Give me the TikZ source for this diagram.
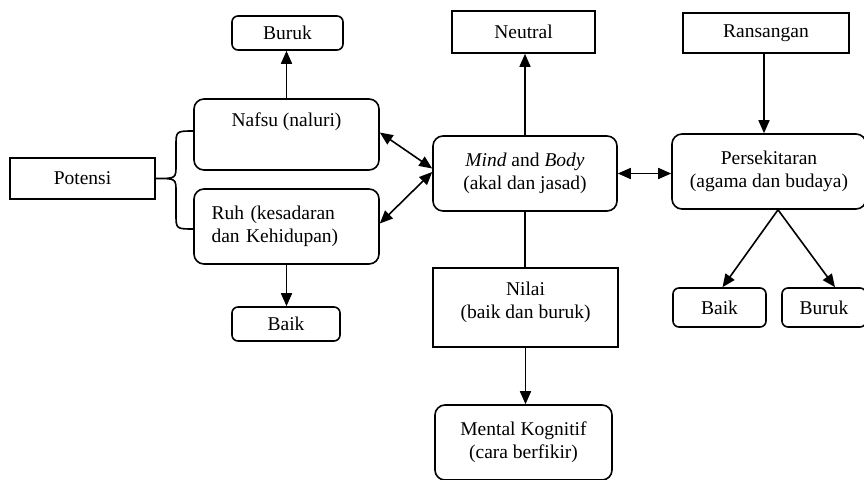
\documentclass[tikz,border=0pt]{standalone}
\usepackage{fontspec}
\setmainfont{Liberation Serif}
\usetikzlibrary{arrows.meta,calc}

\begin{document}
\begin{tikzpicture}[x=1pt,y=-1pt,
    font=\fontsize{19.5}{23}\selectfont, line width=1.6pt,
    box/.style={draw, inner sep=2pt, align=center},
    rbox/.style={box, rounded corners=10pt},
    sbox/.style={box, rounded corners=6pt},
    arr/.style={-{Triangle[length=13pt,width=11pt]}},
    darr/.style={{Triangle[length=13pt,width=11pt]}-{Triangle[length=13pt,width=11pt]}}]

    \useasboundingbox (0,0) rectangle (864,479);

    % left part
    \node[box, minimum width=145pt, minimum height=41pt] (potensi) at (82.5,178.5) {Potensi};
    \node[rbox, minimum width=185pt, minimum height=71pt] (nafsu) at (286.5,134.5) {Nafsu (naluri)\\\strut};
    \node[rbox, minimum width=185pt, minimum height=75pt, text width=150pt, align=left] (ruh) at (286.5,226.5) {Ruh (kesadaran\\dan Kehidupan)};
    \node[sbox, minimum width=111pt, minimum height=34pt] (buruka) at (287.5,33) {Buruk};
    \node[sbox, minimum width=108pt, minimum height=34pt] (baika) at (286,324) {Baik};

    % middle part
    \node[rbox, minimum width=184pt, minimum height=75pt] (mind) at (525,173.5) {\textit{Mind} and \textit{Body}\\(akal dan jasad)};
    \node[box, minimum width=143pt, minimum height=42pt] (neutral) at (523.5,32) {Neutral};
    \node[box, minimum width=185pt, minimum height=79pt] (nilai) at (525.5,307.5) {Nilai\\(baik dan buruk)\\[-15pt]\strut};
    \node[rbox, minimum width=177pt, minimum height=75pt] (mental) at (523.5,442.5) {Mental Kognitif\\(cara berfikir)};

    % right part
    \node[box, minimum width=166pt, minimum height=40pt] (ransangan) at (766,33) {Ransangan};
    \node[rbox, minimum width=194pt, minimum height=75pt] (persek) at (769,171.5) {Persekitaran\\(agama dan budaya)};
    \node[sbox, minimum width=93pt, minimum height=39pt] (baikb) at (719.5,307.5) {Baik};
    \node[sbox, minimum width=84pt, minimum height=39pt] (burukb) at (824,307.5) {Buruk};

    % brace
    \coordinate (btop) at (194,131);
    \coordinate (bbot) at (194,229);
    \draw[line join=round] (btop) .. controls (176,131) .. (176,146) -- (176,165)
        .. controls (176,178.5) .. (potensi.east) .. controls (176,178.5) .. (176,192)
        -- (176,214) .. controls (176,229) .. (bbot);

    \draw[arr] (nafsu.north) -- (nafsu.north |- buruka.south);
    \draw[arr] (ruh.south) -- (ruh.south |- baika.north);
    \draw[darr] ([yshift=2pt]nafsu.east) -- ([yshift=5pt]mind.west);
    \draw[darr] ([yshift=3pt]ruh.east) -- ([yshift=1.5pt]mind.west);
    \draw[arr] (mind.north) -- (mind.north |- neutral.south);
    \draw[darr] (mind.east) -- (mind.east -| persek.west);
    \draw (mind.south) -- (mind.south |- nilai.north);
    \draw[arr] (nilai.south) -- (nilai.south |- mental.north);
    \draw[arr] ([xshift=-2pt]ransangan.south) -- ([xshift=-2pt]ransangan.south |- persek.north);
    \coordinate (apex) at ([xshift=9pt]persek.south);
    \draw[arr] (apex) -- ([xshift=3pt]baikb.north);
    \draw[arr] (apex) -- ([xshift=11pt]burukb.north);
\end{tikzpicture}
\end{document}
